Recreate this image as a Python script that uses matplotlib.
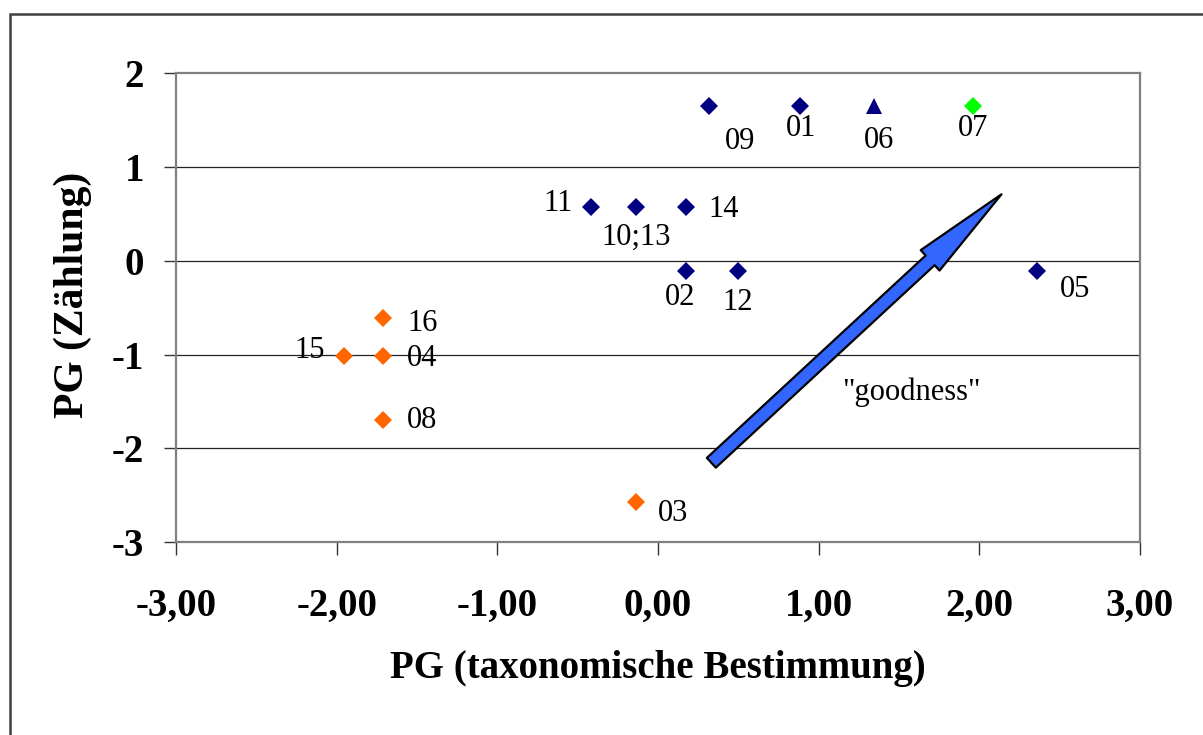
import matplotlib
matplotlib.use("Agg")
import matplotlib.pyplot as plt
from matplotlib.patches import Rectangle

plt.rcParams['font.family'] = ['Liberation Serif', 'DejaVu Serif']

# ---- data ----
labels = ["09", "01", "06", "07", "11", "10;13", "14", "02", "12", "05",
          "16", "15", "04", "08", "03"]
x_vals = [0.316, 0.884, 1.346, 1.963, -0.420, -0.139, 0.173, 0.173, 0.497, 2.356,
          -1.711, -1.954, -1.711, -1.711, -0.139]
y_vals = [1.656, 1.656, 1.656, 1.656, 0.571, 0.571, 0.571, -0.110, -0.110, -0.110,
          -0.610, -1.014, -1.014, -1.695, -2.567]
groups = ["blue", "blue", "tri", "green", "blue", "blue", "blue", "blue", "blue", "blue",
          "orange", "orange", "orange", "orange", "orange"]
# label offsets in pixels (dx right, dy down)
label_dx = [31, 1, 5, 0, -32, 0, 38, -6, 0, 39, 39, -34, 39, 39, 37]
label_dy = [36, 23, 35, 23, -4, 30, 2, 26, 31, 18, 5, -6, 2, 1, 12]

x_ticks = [-3, -2, -1, 0, 1, 2, 3]
x_tick_labels = ["-3,00", "-2,00", "-1,00", "0,00", "1,00", "2,00", "3,00"]
y_ticks = [-3, -2, -1, 0, 1, 2]
y_tick_labels = ["-3", "-2", "-1", "0", "1", "2"]

arrow_start = (0.332, -2.152)
arrow_end = (2.138, 0.710)
arrow_text = '"goodness"'
arrow_text_pos = (1.58, -1.40)

x_label = "PG (taxonomische Bestimmung)"
y_label = "PG (Zählung)"

styles = {
    "blue": dict(marker="D", color="#000080", ms=9),
    "tri": dict(marker="^", color="#000080", ms=12),
    "green": dict(marker="D", color="#00FF00", ms=9),
    "orange": dict(marker="D", color="#FF6600", ms=9),
}

W, H = 1203, 735
DPI = 100
fig = plt.figure(figsize=(W / DPI, H / DPI), dpi=DPI)
fig.patch.set_facecolor("white")

# outer border (only top/left visible)
fig.add_artist(Rectangle((10 / W, -0.1), 1.2, 1.1 - 14 / H, transform=fig.transFigure,
                         fill=False, ec="#404040", lw=1.8))

left, right = 176 / W, 1140 / W
bottom, top = 1 - 542.3 / H, 1 - 73.3 / H
ax = fig.add_axes([left, bottom, right - left, top - bottom])
ax.set_xlim(-3, 3)
ax.set_ylim(-3, 2)

for yt in y_ticks:
    if -3 < yt < 2:
        ax.axhline(yt, color="#222222", lw=0.9, zorder=1)

for s in ax.spines.values():
    s.set_color("#808080")
    s.set_linewidth(1.6)

for xv, yv, g in zip(x_vals, y_vals, groups):
    st = styles[g]
    ax.plot([xv], [yv], linestyle="none", marker=st["marker"], color=st["color"],
            markersize=st["ms"], markeredgewidth=0, zorder=3, clip_on=False)

px2pt = 72 / DPI
for lab, xv, yv, dx, dy in zip(labels, x_vals, y_vals, label_dx, label_dy):
    ax.annotate(lab, (xv, yv), xytext=(dx * px2pt, -dy * px2pt), textcoords="offset points",
                ha="center", va="center", fontsize=22, zorder=4)

ax.annotate("", xy=arrow_end, xytext=arrow_start,
            arrowprops=dict(arrowstyle="simple,head_length=70,head_width=20,tail_width=9.5",
                            mutation_scale=1, fc="#3366FF", ec="black", lw=1.6,
                            shrinkA=0, shrinkB=0), zorder=5)
ax.text(arrow_text_pos[0], arrow_text_pos[1], arrow_text, fontsize=22, ha="center", va="center")

ax.set_xticks(x_ticks)
ax.set_xticklabels(x_tick_labels, fontsize=28, fontweight="bold")
ax.set_yticks(y_ticks)
ax.set_yticklabels(y_tick_labels, fontsize=28, fontweight="bold")
ax.tick_params(axis="x", direction="out", length=9, width=1, color="#333333", pad=24)
ax.tick_params(axis="y", direction="out", length=9, width=1, color="#333333", pad=14)

ax.set_xlabel(x_label, fontsize=28, fontweight="bold", labelpad=18)
ax.set_ylabel(y_label, fontsize=30, fontweight="bold")
ax.yaxis.set_label_coords(-0.087, 0.527)

fig.savefig("out.png", dpi=DPI, facecolor="white")
